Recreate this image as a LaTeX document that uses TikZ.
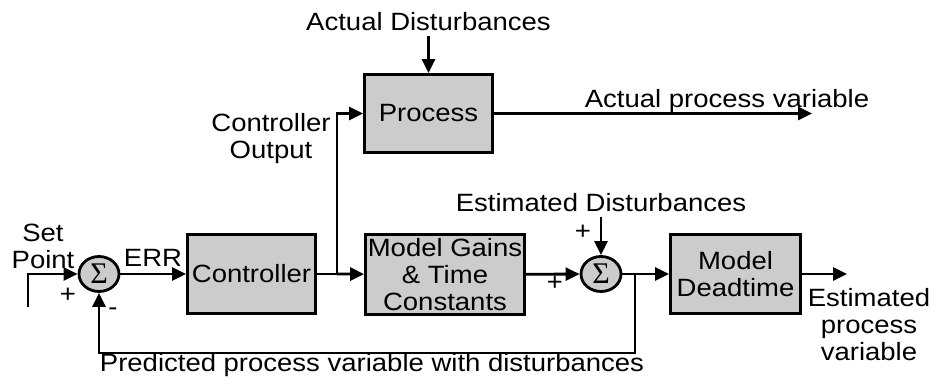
\documentclass[tikz,border=0pt]{standalone}
\usepackage{fontspec}
\setmainfont{Liberation Sans}[FakeStretch=1.1]
\newfontfamily\sigmafont{Liberation Serif}
\usetikzlibrary{arrows.meta,shapes.geometric}

\begin{document}
\begin{tikzpicture}
[x=1pt,y=-1pt,
>={Triangle[length=14pt,width=13pt]},
line width=2.8pt,
every node/.style={font=\fontsize{25}{27}\selectfont},
blockbox/.style={draw,fill=gray!40,inner sep=0pt,align=center},
sumnode/.style={draw,fill=gray!40,ellipse,minimum width=40pt,minimum height=35pt,
  inner sep=0pt,font=\sigmafont\fontsize{30}{30}\selectfont}]
  \useasboundingbox (0,0) rectangle (935,379);
  \node[blockbox,minimum width=128pt,minimum height=79pt] (ctrl) at (251.5,274) {Controller};
  \node[blockbox,minimum width=128pt,minimum height=78pt] (proc) at (428.5,113.5) {Process};
  \node[blockbox,minimum width=159pt,minimum height=80pt] (model) at (445,274.5) {Model Gains\\\& Time\\Constants};
  \node[blockbox,minimum width=130pt,minimum height=79pt] (dead) at (735.5,274) {Model\\Deadtime};
  \node[sumnode] (sumA) at (99,274) {Σ};
  \node[sumnode] (sumB) at (601,274) {Σ};
  \node[align=center] (sp) at (43,246) {Set\\Point};
  \node (err) at (153,258) {ERR};
  \node (plusA) at (68,295) {+};
  \node (minusA) at (113,312) {-};
  \node (ad) at (428.5,22) {Actual Disturbances};
  \node[align=center] (co) at (271,138.5) {Controller\\Output};
  \node[anchor=base] (apv) at (727,108) {Actual process variable};
  \node (ed) at (601,203) {Estimated Disturbances};
  \node (plusB) at (583,232) {+};
  \node (plusC) at (555,283) {+};
  \node[align=center] (epv) at (869,325) {Estimated\\process\\variable};
  \node (ppv) at (372,365) {Predicted process variable with disturbances};
  \coordinate (spin) at (28,307);
  \coordinate (branch) at (337,274);
  \coordinate (apvend) at (812,113.5);
  \coordinate (fb) at (635,274);
  \coordinate (fbcorner) at (635,353);
  \coordinate (epvend) at (847,274);
  \draw[->] (spin) |- (sumA);
  \draw[->] (sumA) -- (ctrl);
  \draw (ctrl) -- (branch);
  \draw[->] (branch) -- (model);
  \draw[->] (branch) |- (proc);
  \draw[->] (ad) -- (proc);
  \draw[->] (proc) -- (apvend);
  \draw[->] (ed) -- (sumB);
  \draw[->] (model) -- (sumB);
  \draw (sumB) -- (fb);
  \draw[->] (fb) -- (dead);
  \draw[->] (fb) -- (fbcorner) -| (sumA);
  \draw[->] (dead) -- (epvend);
\end{tikzpicture}
\end{document}
